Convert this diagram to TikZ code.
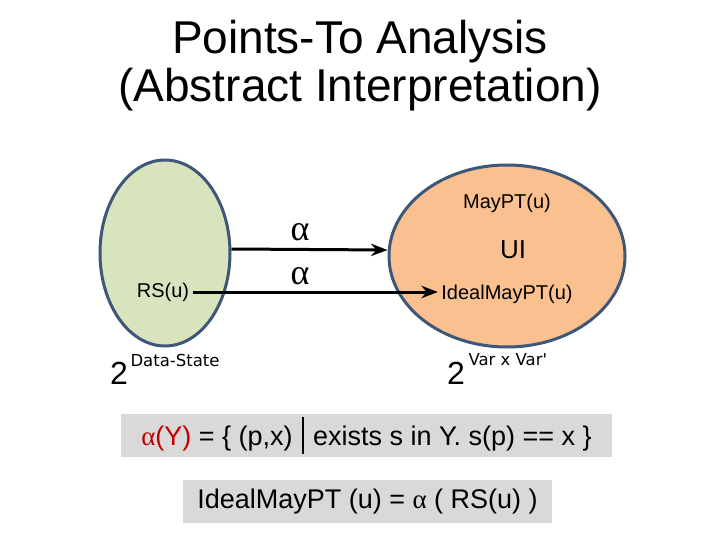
\documentclass[tikz,border=0pt]{standalone}
\usepackage{fontspec}
\setmainfont{Liberation Sans}
\newfontfamily\smallsans{DejaVu Sans}
\newfontfamily\greekserif{Liberation Serif}
\usetikzlibrary{arrows.meta,shapes.geometric}
\definecolor{setgreen}{HTML}{D7E4BD}
\definecolor{setpeach}{HTML}{FAC090}
\definecolor{setborder}{HTML}{3E5677}
\definecolor{boxgray}{HTML}{D9D9D9}
\definecolor{alphared}{HTML}{C00000}
\newcommand{\absalpha}{{\greekserif α}}

\begin{document}
\begin{tikzpicture}[x=1pt, y=-1pt, >=Stealth, font=\fontsize{20}{24}\selectfont]
\tikzset{
  setoval/.style={ellipse, draw=setborder, line width=3pt},
  absarrow/.style={->, line width=3pt},
  formula/.style={fill=boxgray, font=\fontsize{27}{30}\selectfont, inner sep=0pt},
  base/.style={font=\fontsize{32}{32}\selectfont},
  expo/.style={anchor=west, font=\smallsans\fontsize{16.5}{18}\selectfont}
}
\useasboundingbox (0,0) rectangle (720,540);
% title
\node[align=center, font=\fontsize{46}{48}\selectfont] (title) at (360,66)
  {Points-To Analysis\\(Abstract Interpretation)};
% concrete domain
\node[setoval, fill=setgreen, minimum width=130, minimum height=186] (ds) at (165,253) {};
\node (rs) at (163,292) {RS(u)};
\node[base] (dstwo) at (119,373) {2};
\node[expo] (dsexp) at (127,360) {Data-State};
% abstract domain
\node[setoval, fill=setpeach, minimum width=236, minimum height=182] (pt) at (507,256) {};
\node (maypt) at (507,203) {MayPT(u)};
\node[font=\fontsize{26}{28}\selectfont] (sub) at (513,250) {UI};
\node (ideal) at (507,294) {IdealMayPT(u)};
\node[base] (pttwo) at (456,373) {2};
\node[expo] (ptexp) at (465,360) {Var x Var'};
% abstraction arrows
\draw[absarrow] ([yshift=4pt]ds.east) -- ([yshift=6pt]pt.west);
\node[font=\fontsize{36}{36}\selectfont] (a1) at (300,232) {\absalpha};
\draw[absarrow] (rs.east) -- (rs.east -| ideal.west);
\node[font=\fontsize{36}{36}\selectfont] (a2) at (300,276) {\absalpha};
% definitions
\node[formula, minimum width=491, minimum height=43] (absdef) at (366.5,435.5)
  {\textcolor{alphared}{\absalpha(Y)} = \{ (p,x)\hspace{0.35em}\rule[-0.3em]{1.5pt}{1.35em}\hspace{0.35em}exists s in Y. s(p) == x \}};
\node[formula, minimum width=369, minimum height=43] (idealdef) at (367.5,501.5)
  {IdealMayPT (u) = \absalpha\ ( RS(u) )};
\end{tikzpicture}
\end{document}
